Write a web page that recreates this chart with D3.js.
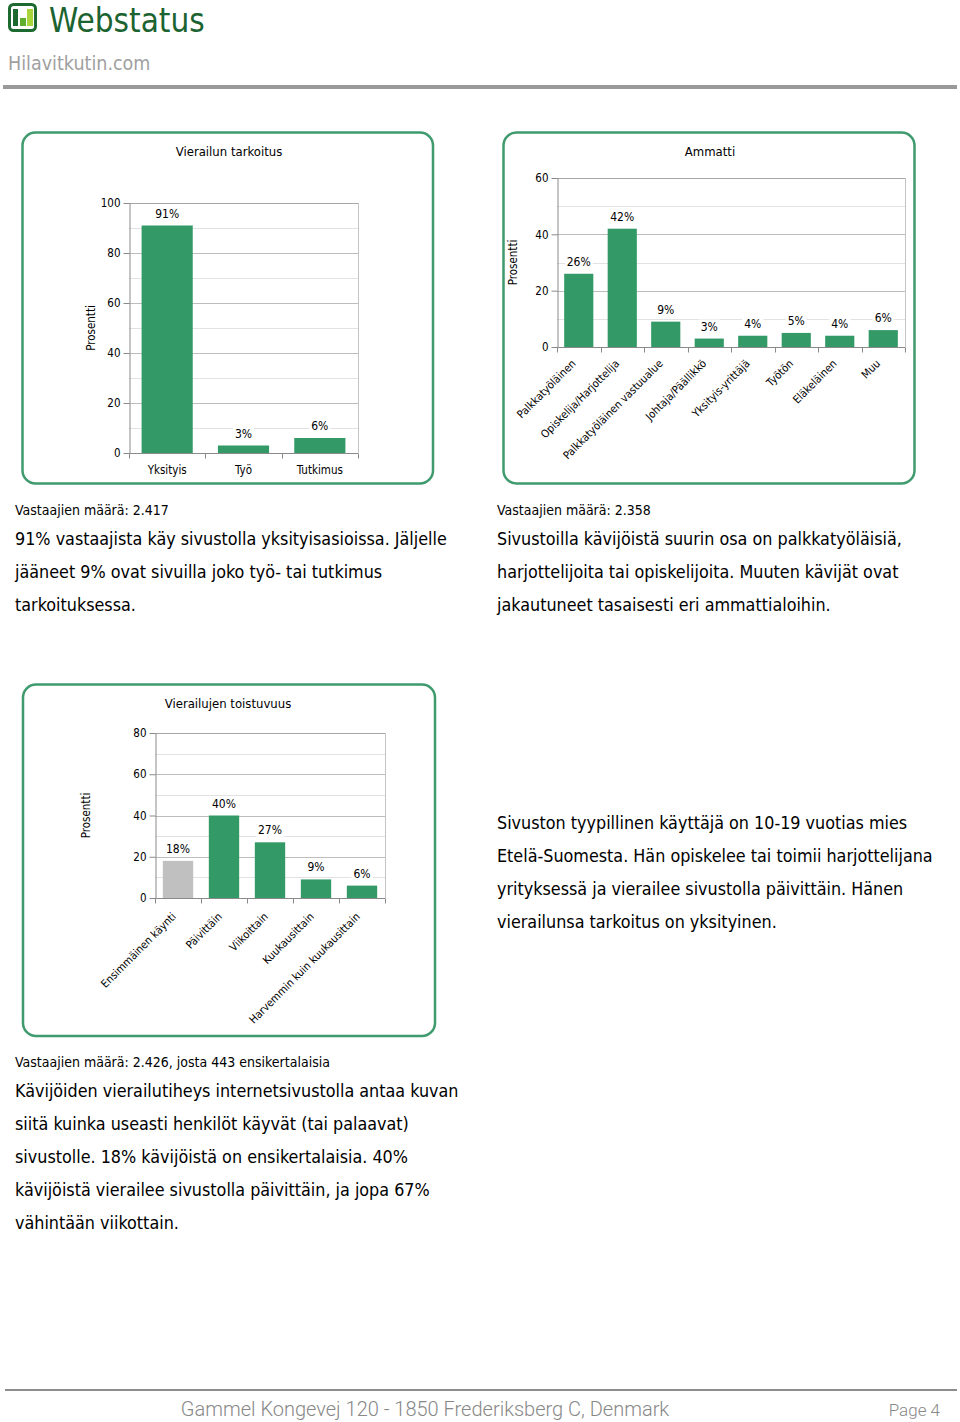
<!DOCTYPE html>
<html><head><meta charset="utf-8">
<script src="https://cdn.jsdelivr.net/npm/d3@7/dist/d3.min.js"></script>
<style>body{margin:0;background:#fff}</style>
</head><body>
<svg id="page" width="960" height="1422" xmlns="http://www.w3.org/2000/svg"></svg>
<script>
// ---------- data ----------
const purposeCategories = ["Yksityis", "Työ", "Tutkimus"];
const purposeValues = [91, 3, 6];
const purposeTicks = [0, 20, 40, 60, 80, 100];

const occupationCategories = ["Palkkatyöläinen", "Opiskelija/Harjottelija", "Palkkatyöläinen vastuualue", "Johtaja/Päällikkö", "Yksityis-yrittäjä", "Työtön", "Eläkeläinen", "Muu"];
const occupationValues = [26, 42, 9, 3, 4, 5, 4, 6];
const occupationTicks = [0, 20, 40, 60];

const frequencyCategories = ["Ensimmäinen käynti", "Päivittäin", "Viikoittain", "Kuukausittain", "Harvemmin kuin kuukausittain"];
const frequencyValues = [18, 40, 27, 9, 6];
const frequencyTicks = [0, 20, 40, 60, 80];
const frequencyGrayCategories = ["Ensimmäinen käynti"];

const purposeNote = "Vastaajien määrä: 2.417";
const purposeText = ["91% vastaajista käy sivustolla yksityisasioissa. Jäljelle", "jääneet 9% ovat sivuilla joko työ- tai tutkimus", "tarkoituksessa."];
const occupationNote = "Vastaajien määrä: 2.358";
const occupationText = ["Sivustoilla kävijöistä suurin osa on palkkatyöläisiä,", "harjottelijoita tai opiskelijoita. Muuten kävijät ovat", "jakautuneet tasaisesti eri ammattialoihin."];
const profileText = ["Sivuston tyypillinen käyttäjä on 10-19 vuotias mies", "Etelä-Suomesta. Hän opiskelee tai toimii harjottelijana", "yrityksessä ja vierailee sivustolla päivittäin. Hänen", "vierailunsa tarkoitus on yksityinen."];
const frequencyNote = "Vastaajien määrä: 2.426, josta 443 ensikertalaisia";
const frequencyText = ["Kävijöiden vierailutiheys internetsivustolla antaa kuvan", "siitä kuinka useasti henkilöt käyvät (tai palaavat)", "sivustolle. 18% kävijöistä on ensikertalaisia. 40%", "kävijöistä vierailee sivustolla päivittäin, ja jopa 67%", "vähintään viikottain."];

// ---------- styles ----------
const FONT = "'DejaVu Sans Condensed', 'DejaVu Sans', sans-serif";
const GREEN = "#339966";
const GRAY_BAR = "#c0c0c0";
const PANEL = "#3f9a6e";

const svg = d3.select("#page");

// ---------- header ----------
const hdr = svg.append("g");
hdr.append("rect").attr("x", 9.5).attr("y", 4.5).attr("width", 26).attr("height", 26).attr("rx", 4)
  .attr("fill", "none").attr("stroke", "#1d6a31").attr("stroke-width", 3);
hdr.append("rect").attr("x", 13).attr("y", 9).attr("width", 5).attr("height", 17).attr("fill", "#1d6a31");
hdr.append("rect").attr("x", 20).attr("y", 18).attr("width", 6).attr("height", 8).attr("fill", "#5fae2e");
hdr.append("rect").attr("x", 27).attr("y", 9).attr("width", 6).attr("height", 17).attr("fill", "#a8d63a");
hdr.append("text").attr("x", 49).attr("y", 32).text("Webstatus")
  .attr("font-family", FONT).attr("font-size", 33).attr("fill", "#1b6330");
hdr.append("text").attr("x", 8).attr("y", 70).text("Hilavitkutin.com")
  .attr("font-family", FONT).attr("font-size", 19.5).attr("fill", "#a0a0a0");
hdr.append("rect").attr("x", 3).attr("y", 85).attr("width", 954).attr("height", 4).attr("fill", "#9a9a9a");

// ---------- chart function ----------
function drawChart(cfg) {
  const g = svg.append("g");
  g.append("rect").attr("x", cfg.panel[0]).attr("y", cfg.panel[1]).attr("width", cfg.panel[2]).attr("height", cfg.panel[3])
    .attr("rx", 13).attr("fill", "#fff").attr("stroke", PANEL).attr("stroke-width", 2.5);
  g.append("text").attr("x", cfg.titleX).attr("y", cfg.titleY).attr("text-anchor", "middle")
    .attr("font-family", FONT).attr("font-size", 13).text(cfg.title);

  const x = d3.scaleBand().domain(cfg.cats).range([cfg.plot[0], cfg.plot[1]]).paddingInner(cfg.pad).paddingOuter(cfg.pad / 2);
  const y = d3.scaleLinear().domain([0, cfg.max]).range([cfg.plot[3], cfg.plot[2]]);

  // gridlines
  const grid = d3.range(10, cfg.max, 10);
  g.selectAll(".grid").data(grid).join("line")
    .attr("x1", cfg.plot[0]).attr("x2", cfg.plot[1]).attr("y1", d => Math.round(y(d)) + 0.5).attr("y2", d => Math.round(y(d)) + 0.5)
    .attr("stroke", d => d % 20 === 0 ? "#bdbdbd" : "#e2e2e2").attr("stroke-width", 1);
  // frame top & right
  g.append("line").attr("x1", cfg.plot[0]).attr("x2", cfg.plot[1]).attr("y1", Math.round(y(cfg.max)) + 0.5).attr("y2", Math.round(y(cfg.max)) + 0.5).attr("stroke", "#a6a6a6");
  g.append("line").attr("x1", cfg.plot[1] + 0.5).attr("x2", cfg.plot[1] + 0.5).attr("y1", y(cfg.max)).attr("y2", y(0)).attr("stroke", "#c4c4c4");

  // bars
  g.selectAll(".bar").data(cfg.cats).join("rect")
    .attr("x", d => x(d)).attr("width", x.bandwidth())
    .attr("y", (d, i) => y(cfg.vals[i])).attr("height", (d, i) => y(0) - y(cfg.vals[i]))
    .attr("fill", d => (cfg.grayCats || []).includes(d) ? GRAY_BAR : GREEN);

  // value labels with white background
  cfg.cats.forEach((d, i) => {
    const t = g.append("text").attr("x", x(d) + x.bandwidth() / 2).attr("y", y(cfg.vals[i]) - 8)
      .attr("text-anchor", "middle").attr("font-family", FONT).attr("font-size", 12).text(cfg.vals[i] + "%");
    const b = t.node().getBBox();
    g.insert("rect", () => t.node()).attr("x", b.x - 2).attr("y", b.y).attr("width", b.width + 4).attr("height", b.height).attr("fill", "#fff");
  });

  // y axis
  const yAxis = d3.axisLeft(y).tickValues(cfg.ticks).tickSize(6).tickPadding(3).tickSizeOuter(0);
  const ya = g.append("g").attr("transform", `translate(${cfg.plot[0] + 0.5},0)`).call(yAxis);
  ya.select(".domain").attr("stroke", "#8a8a8a");
  ya.selectAll(".tick line").attr("stroke", "#8a8a8a");
  ya.selectAll(".tick text").attr("font-family", FONT).attr("font-size", 11.5).attr("fill", "#000");

  // x axis
  const xa = g.append("g").attr("transform", `translate(0,${Math.round(y(0)) + 0.5})`);
  xa.append("line").attr("x1", cfg.plot[0]).attr("x2", cfg.plot[1]).attr("stroke", "#8a8a8a");
  const bounds = d3.range(0, cfg.cats.length + 1).map(i => cfg.plot[0] + i * x.step());
  xa.selectAll(".xt").data(bounds).join("line")
    .attr("x1", d => Math.round(d) + 0.5).attr("x2", d => Math.round(d) + 0.5).attr("y1", 0).attr("y2", 5).attr("stroke", "#8a8a8a");
  cfg.cats.forEach(d => {
    const cx = x(d) + x.bandwidth() / 2;
    if (cfg.rotate) {
      xa.append("text").attr("transform", `translate(${cx + cfg.labelDx},${cfg.labelDy}) rotate(-45)`)
        .attr("text-anchor", "end").attr("dy", "0.35em").attr("font-family", FONT).attr("font-size", 11).text(d);
    } else {
      xa.append("text").attr("x", cx).attr("y", cfg.labelDy).attr("text-anchor", "middle")
        .attr("font-family", FONT).attr("font-size", 11.5).text(d);
    }
  });

  // y title
  g.append("text").attr("transform", `translate(${cfg.yTitleX},${(cfg.plot[2] + cfg.plot[3]) / 2}) rotate(-90)`)
    .attr("text-anchor", "middle").attr("font-family", FONT).attr("font-size", 11.5).text("Prosentti");
}

drawChart({ panel: [22.5, 132.5, 410.5, 351], title: "Vierailun tarkoitus", titleX: 229, titleY: 156,
  plot: [129, 358, 203, 453], max: 100, ticks: purposeTicks, cats: purposeCategories, vals: purposeValues,
  pad: 0.33, rotate: false, labelDy: 20, yTitleX: 95 });

drawChart({ panel: [503.5, 132.5, 411, 351], title: "Ammatti", titleX: 710, titleY: 156,
  plot: [557, 905, 178, 347], max: 60, ticks: occupationTicks, cats: occupationCategories, vals: occupationValues,
  pad: 0.33, rotate: true, labelDx: -5, labelDy: 14, yTitleX: 517 });

drawChart({ panel: [23, 684.5, 412, 351.5], title: "Vierailujen toistuvuus", titleX: 228, titleY: 708,
  plot: [155, 385, 733, 898], max: 80, ticks: frequencyTicks, cats: frequencyCategories, vals: frequencyValues,
  grayCats: frequencyGrayCategories, pad: 0.34, rotate: true, labelDx: -4, labelDy: 16, yTitleX: 90 });

// ---------- texts ----------
function note(x, y, s) {
  svg.append("text").attr("x", x).attr("y", y).attr("font-family", FONT).attr("font-size", 14).text(s);
}
function para(x, y, lines) {
  svg.append("g").selectAll("text").data(lines).join("text")
    .attr("x", x).attr("y", (d, i) => y + i * 33).attr("font-family", FONT).attr("font-size", 17.8).text(d => d);
}
note(15, 515, purposeNote);
para(15, 545, purposeText);
note(497, 515, occupationNote);
para(497, 545, occupationText);
para(497, 829, profileText);
note(15, 1067, frequencyNote);
para(15, 1097, frequencyText);

// ---------- footer ----------
svg.append("rect").attr("x", 5).attr("y", 1389).attr("width", 952).attr("height", 2).attr("fill", "#8c8c8c");
svg.append("text").attr("x", 425).attr("y", 1416).attr("text-anchor", "middle")
  .attr("font-family", "Roboto, sans-serif").attr("font-weight", 300).attr("font-size", 20).attr("fill", "#888").text("Gammel Kongevej 120 - 1850 Frederiksberg C, Denmark");
svg.append("text").attr("x", 940).attr("y", 1416).attr("text-anchor", "end")
  .attr("font-family", "Roboto, sans-serif").attr("font-weight", 300).attr("font-size", 17).attr("fill", "#888").text("Page 4");
</script>
</body></html>
